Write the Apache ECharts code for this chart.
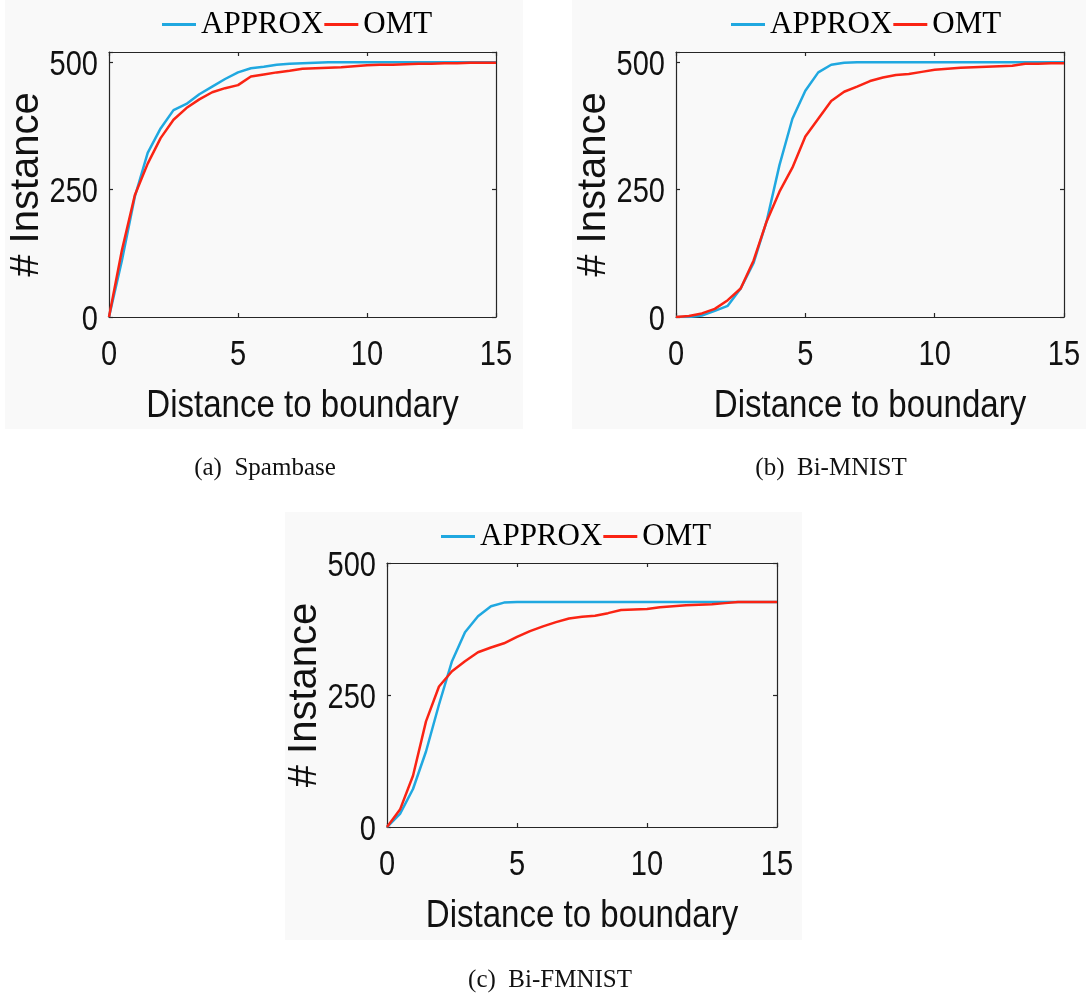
<!DOCTYPE html>
<html>
<head>
<meta charset="utf-8">
<script src="https://cdn.jsdelivr.net/npm/echarts@6/dist/echarts.min.js"></script>
<style>
html,body{margin:0;padding:0;background:#fff;}
#c{width:1086px;height:995px;}
</style>
</head>
<body>
<div id="c"></div>
<script>
// ---- data ----
const distance = [0,0.5,1,1.5,2,2.5,3,3.5,4,4.5,5,5.5,6,6.5,7,7.5,8,8.5,9,9.5,10,10.5,11,11.5,12,12.5,13,13.5,14,14.5,15];
const seriesNames = ['APPROX','OMT'];
const spambaseApprox = [0,111,236,322,370,406,418,437,452,467,480,488,491,495,497,498,499,500,500,500,500,500,500,500,500,500,500,500,500,500,500];
const spambaseOmt    = [0,131,239,301,351,387,410,427,441,449,455,472,476,480,483,487,488,489,490,492,494,495,495,496,497,497,498,498,499,499,499];
const mnistApprox    = [0,0,3,12,22,56,106,187,298,389,444,480,495,499,500,500,500,500,500,500,500,500,500,500,500,500,500,500,500,500,500];
const mnistOmt       = [0,2,7,16,33,56,111,187,246,293,354,389,424,442,452,463,470,475,477,481,485,487,489,490,491,492,493,497,497,498,498];
const fmnistApprox   = [0,25,72,143,232,314,369,399,418,425,426,426,426,426,426,426,426,426,426,426,426,426,426,426,426,426,426,426,426,426,426];
const fmnistOmt      = [0,33,97,200,266,295,314,331,340,348,360,371,380,388,395,398,400,405,411,412,413,416,418,420,421,422,424,426,426,426,426];
const xTicks = [0,5,10,15];
const yTicks = [0,250,500];
const captions = ['(a)  Spambase','(b)  Bi-MNIST','(c)  Bi-FMNIST'];
const xAxisTitle = 'Distance to boundary';
const yAxisTitle = '# Instance';

// ---- layout / style ----
const BLUE = '#20a8e0', RED = '#fa2414';
const AXC = '#262626';
const SANS = "'Liberation Sans', Arial, sans-serif";
const panels = [
  {grid:{left:109, top:52, width:387, height:265}, ymax:520, bg:[5,0,518,429], legendLeft:157, legendTop:4, cap:[265,468], a:spambaseApprox, o:spambaseOmt},
  {grid:{left:676, top:52, width:388, height:265}, ymax:520, bg:[572,0,514,429], legendLeft:726, legendTop:4, cap:[831,468], a:mnistApprox, o:mnistOmt},
  {grid:{left:387, top:563, width:390, height:264}, ymax:500, bg:[285,512,517,428], legendLeft:436, legendTop:516, cap:[550,980], a:fmnistApprox, o:fmnistOmt}
];

const grid=[], xAxis=[], yAxis=[], series=[], legend=[], graphic=[];
const axBase = {axisLine:{show:true, onZero:false, lineStyle:{color:AXC, width:1.2}},
  axisTick:{show:true, inside:true, length:4, lineStyle:{color:AXC, width:1.2}},
  splitLine:{show:false}, axisLabel:{show:false}};
panels.forEach((p,i)=>{
  grid.push(Object.assign({containLabel:false}, p.grid));
  graphic.push({type:'rect', z:-10, silent:true, shape:{x:p.bg[0], y:p.bg[1], width:p.bg[2], height:p.bg[3]}, style:{fill:'#f9f9f9'}});
  graphic.push({type:'text', silent:true, x:p.cap[0], y:p.cap[1], style:{text:captions[i], font:"25px 'Liberation Serif', serif", fill:'#111', textAlign:'center', textVerticalAlign:'middle'}});
  xAxis.push(Object.assign({type:'value', gridIndex:i, position:'bottom', min:0, max:15, interval:5}, axBase));
  xAxis.push(Object.assign({type:'value', gridIndex:i, position:'top', min:0, max:15, interval:5}, axBase));
  yAxis.push(Object.assign({type:'value', gridIndex:i, position:'left', min:0, max:p.ymax, interval:250}, axBase,
    {name:yAxisTitle, nameLocation:'middle', nameGap:62, nameRotate:90,
     nameTextStyle:{fontFamily:SANS, fontSize:40, color:'#111'}}));
  yAxis.push(Object.assign({type:'value', gridIndex:i, position:'right', min:0, max:p.ymax, interval:250}, axBase));
  [[seriesNames[0], p.a, BLUE],[seriesNames[1], p.o, RED]].forEach(([nm, vals, col])=>{
    series.push({type:'line', name:nm, xAxisIndex:2*i, yAxisIndex:2*i, symbol:'none',
      data: distance.map((d,k)=>[d, vals[k]]),
      lineStyle:{color:col, width:2.5}, itemStyle:{color:col}, animation:false});
  });
  legend.push({left:p.legendLeft, top:p.legendTop, data:seriesNames, icon:'rect', itemWidth:34, itemHeight:3, itemGap:1,
    textStyle:{fontFamily:"'Liberation Serif', 'Times New Roman', serif", fontSize:31, color:'#000'}, selectedMode:false});
});

const chart = echarts.init(document.getElementById('c'), null, {renderer:'canvas'});
chart.setOption({animation:false, backgroundColor:'#fff', grid, xAxis, yAxis, series, legend, graphic});

// condensed tick labels and x-axis titles, positioned through the axes' own scales
const extra = [];
panels.forEach((p,i)=>{
  const finder = {xAxisIndex:2*i, yAxisIndex:2*i};
  xTicks.forEach(v=>{
    const pt = chart.convertToPixel(finder, [v, 0]);
    extra.push({type:'text', silent:true, x:pt[0], y:pt[1]+38, scaleX:0.83,
      style:{text:String(v), font:'35px '+SANS, fill:'#111', textAlign:'center', textVerticalAlign:'middle'}});
  });
  yTicks.forEach(v=>{
    const pt = chart.convertToPixel(finder, [0, v]);
    extra.push({type:'text', silent:true, x:pt[0]-11, y:pt[1]+3, scaleX:0.83,
      style:{text:String(v), font:'35px '+SANS, fill:'#111', textAlign:'right', textVerticalAlign:'middle'}});
  });
  const mid = chart.convertToPixel(finder, [7.5, 0]);
  extra.push({type:'text', silent:true, x:mid[0], y:mid[1]+90, scaleX:0.87,
    style:{text:xAxisTitle, font:'38px '+SANS, fill:'#111', textAlign:'center', textVerticalAlign:'middle'}});
});
chart.setOption({graphic: graphic.concat(extra)});
</script>
</body>
</html>
